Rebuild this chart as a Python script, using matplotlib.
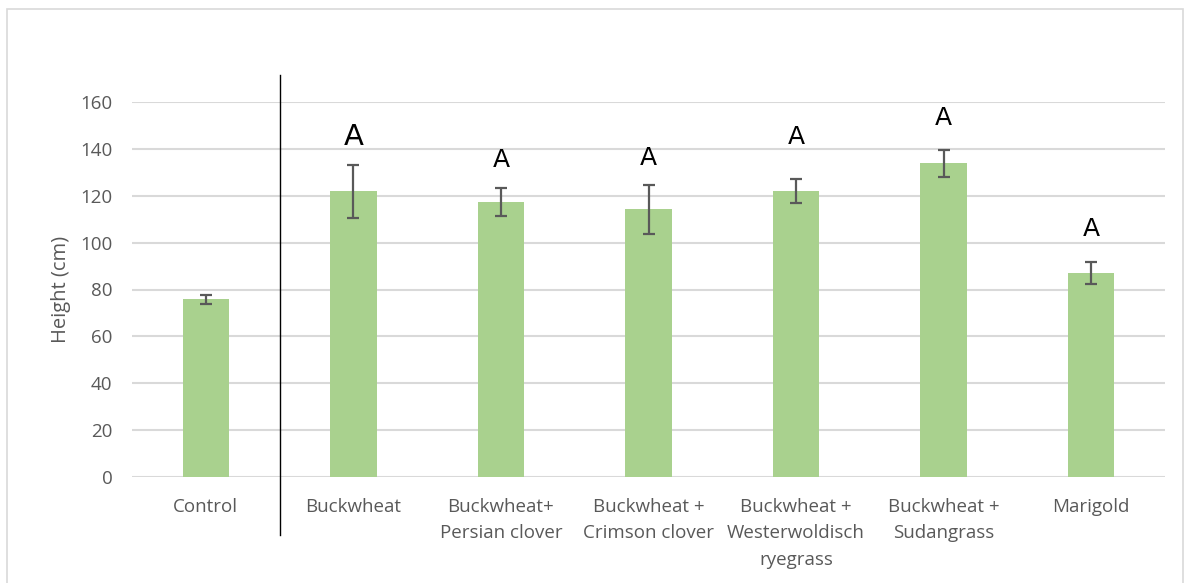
import matplotlib
matplotlib.use("Agg")
import matplotlib.pyplot as plt
from matplotlib.lines import Line2D
from matplotlib.patches import Rectangle
from matplotlib.transforms import blended_transform_factory

# Plant height by cover-crop treatment
categories = [
    "Control",
    "Buckwheat",
    "Buckwheat+\nPersian clover",
    "Buckwheat +\nCrimson clover",
    "Buckwheat +\nWesterwoldisch\nryegrass",
    "Buckwheat +\nSudangrass",
    "Marigold",
]
heights = [75.8, 122.0, 117.3, 114.3, 122.0, 133.8, 87.0]
errors = [2.0, 11.3, 5.8, 10.5, 5.0, 5.7, 4.6]
letters = ["", "A", "A", "A", "A", "A", "A"]
letter_heights = [None, 145.0, 135.2, 136.0, 145.0, 153.0, 105.8]
letter_sizes = [None, 21, 18, 18, 18, 18, 18]
yticks = [0, 20, 40, 60, 80, 100, 120, 140, 160]

W, H = 1187, 583
fig = plt.figure(figsize=(W / 100, H / 100), dpi=100)
ax = fig.add_axes([132 / W, 1 - 477 / H, (1165 - 132) / W, (477 - 102) / H])

text_color = "#595959"
font = "Open Sans"

x = list(range(len(categories)))
ax.bar(x, heights, width=0.315, color="#a9d18e", zorder=3)
ax.errorbar(x, heights, yerr=errors, fmt="none", ecolor="#595959",
            elinewidth=1.6, capsize=4.3, capthick=1.6, zorder=4)

for xi, lab, ly, fs in zip(x, letters, letter_heights, letter_sizes):
    if lab:
        ax.text(xi, ly, lab, ha="center", va="center", fontsize=fs,
                family="DejaVu Sans", color="black")

ax.set_xlim(-0.5, len(categories) - 0.5)
ax.set_ylim(0, 160)
ax.set_yticks(yticks)
ax.set_yticklabels([str(v) for v in yticks], fontsize=13.5,
                   family=font, color=text_color)
ax.set_xticks(x)
ax.set_xticklabels(categories, fontsize=13.5, family=font,
                   color=text_color, linespacing=1.6)
ax.tick_params(axis="both", length=0)
ax.tick_params(axis="y", pad=14)
ax.tick_params(axis="x", pad=15)

ax.grid(axis="y", color="#d9d9d9", linewidth=1.5, zorder=0)
ax.set_axisbelow(True)
for s in ax.spines.values():
    s.set_visible(False)

ax.set_ylabel("Height (cm)", fontsize=14.5, family=font, color=text_color,
              labelpad=7)

# Divider between the control and the treatments
trans = blended_transform_factory(ax.transData, fig.transFigure)
ax.add_line(Line2D([0.5, 0.5], [1 - 75 / H, 1 - 535 / H], transform=trans,
                   color="black", linewidth=1.0, clip_on=False, zorder=5))

# Chart frame
fig.patches.append(Rectangle((7 / W, -0.02), (1183 - 7) / W, 1.02 - 9 / H,
                             transform=fig.transFigure, fill=False,
                             edgecolor="#d9d9d9", linewidth=1.2))

fig.savefig("out.png", dpi=100, facecolor="white")
